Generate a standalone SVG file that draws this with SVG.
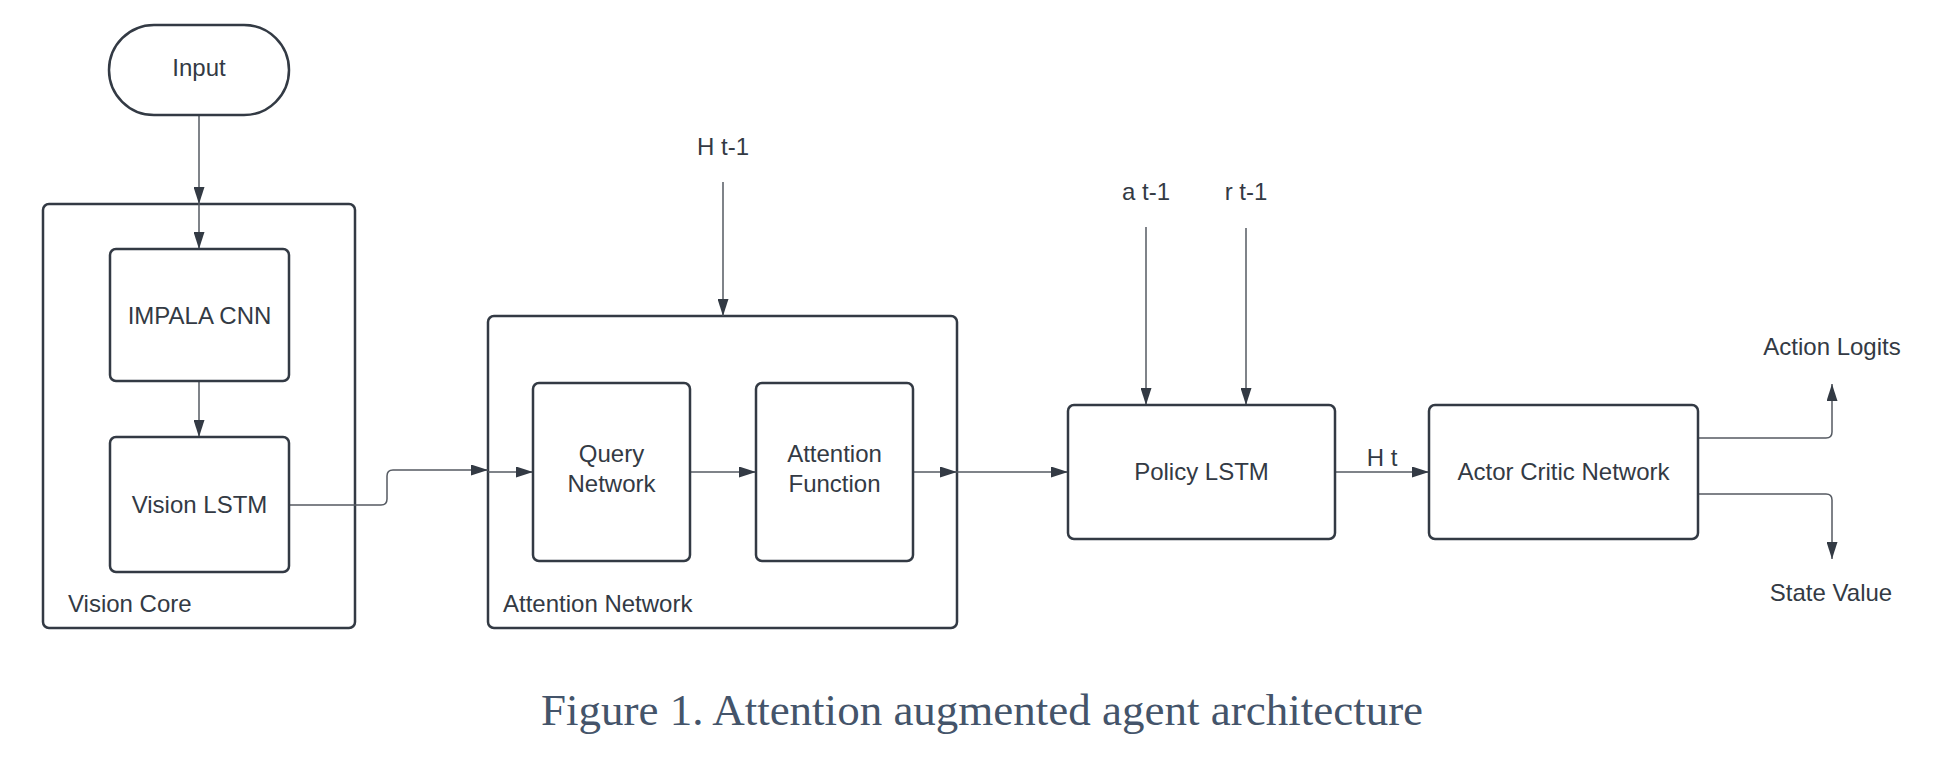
<svg xmlns="http://www.w3.org/2000/svg" width="1942" height="770" viewBox="0 0 1942 770">
<defs>
<style>
.box{fill:#fff;stroke:#333a44;stroke-width:2.5}
.cont{fill:none;stroke:#333a44;stroke-width:2.5}
.ln{fill:none;stroke:#555a62;stroke-width:1.5}
.t{font-family:"Liberation Sans",Arial,sans-serif;font-size:24px;fill:#333a44;text-anchor:middle}
.tl{font-family:"Liberation Sans",Arial,sans-serif;font-size:24px;fill:#333a44}
.cap{font-family:"Liberation Serif","Times New Roman",serif;font-size:45px;fill:#44546a;text-anchor:middle}
</style>
<marker id="ah" viewBox="0 0 17 11" refX="17" refY="5.5" markerWidth="17" markerHeight="11" markerUnits="userSpaceOnUse" orient="auto">
<path d="M0,0 L17,5.5 L0,11 Z" fill="#333a44"/>
</marker>
</defs>
<rect width="1942" height="770" fill="#fff"/>

<g id="vision-core">
<rect class="cont" x="43" y="204" width="312" height="424" rx="6"/>
<text class="tl" x="68" y="612">Vision Core</text>
</g>
<g id="attention-network">
<rect class="cont" x="488" y="316" width="469" height="312" rx="6"/>
<text class="tl" x="503" y="612">Attention Network</text>
</g>

<g id="connectors">
<path class="ln" d="M199,115 V204" marker-end="url(#ah)"/>
<path class="ln" d="M199,204 V249" marker-end="url(#ah)"/>
<path class="ln" d="M199,381 V437" marker-end="url(#ah)"/>
<path class="ln" d="M289,505 H381 Q387,505 387,499 V476 Q387,470 393,470 H488" marker-end="url(#ah)"/>
<path class="ln" d="M488,472 H533" marker-end="url(#ah)"/>
<path class="ln" d="M690,472 H756" marker-end="url(#ah)"/>
<path class="ln" d="M913,472 H957" marker-end="url(#ah)"/>
<path class="ln" d="M957,472 H1068" marker-end="url(#ah)"/>
<path class="ln" d="M723,182 V316" marker-end="url(#ah)"/>
<path class="ln" d="M1146,227 V405" marker-end="url(#ah)"/>
<path class="ln" d="M1246,228 V405" marker-end="url(#ah)"/>
<path class="ln" d="M1335,472 H1429" marker-end="url(#ah)"/>
<path class="ln" d="M1698,438 H1826 Q1832,438 1832,432 V384" marker-end="url(#ah)"/>
<path class="ln" d="M1698,494 H1826 Q1832,494 1832,500 V559" marker-end="url(#ah)"/>
</g>

<g id="input">
<rect class="box" x="109" y="25" width="180" height="90" rx="45"/>
<text class="t" x="199" y="76">Input</text>
</g>
<g id="impala-cnn">
<rect class="box" x="110" y="249" width="179" height="132" rx="6"/>
<text class="t" x="199.5" y="324">IMPALA CNN</text>
</g>
<g id="vision-lstm">
<rect class="box" x="110" y="437" width="179" height="135" rx="6"/>
<text class="t" x="199.5" y="513">Vision LSTM</text>
</g>
<g id="query-network">
<rect class="box" x="533" y="383" width="157" height="178" rx="6"/>
<text class="t" x="611.5" y="462">Query</text>
<text class="t" x="611.5" y="492">Network</text>
</g>
<g id="attention-function">
<rect class="box" x="756" y="383" width="157" height="178" rx="6"/>
<text class="t" x="834.5" y="462">Attention</text>
<text class="t" x="834.5" y="492">Function</text>
</g>
<g id="policy-lstm">
<rect class="box" x="1068" y="405" width="267" height="134" rx="6"/>
<text class="t" x="1201.5" y="480">Policy LSTM</text>
</g>
<g id="actor-critic">
<rect class="box" x="1429" y="405" width="269" height="134" rx="6"/>
<text class="t" x="1563.5" y="480">Actor Critic Network</text>
</g>

<g id="labels">
<text class="t" x="723" y="155">H t-1</text>
<text class="t" x="1146" y="200">a t-1</text>
<text class="t" x="1246" y="200">r t-1</text>
<text class="t" x="1382" y="466">H t</text>
<text class="t" x="1832" y="355">Action Logits</text>
<text class="t" x="1831" y="601">State Value</text>
</g>

<text class="cap" x="982" y="725">Figure 1. Attention augmented agent architecture</text>
</svg>
